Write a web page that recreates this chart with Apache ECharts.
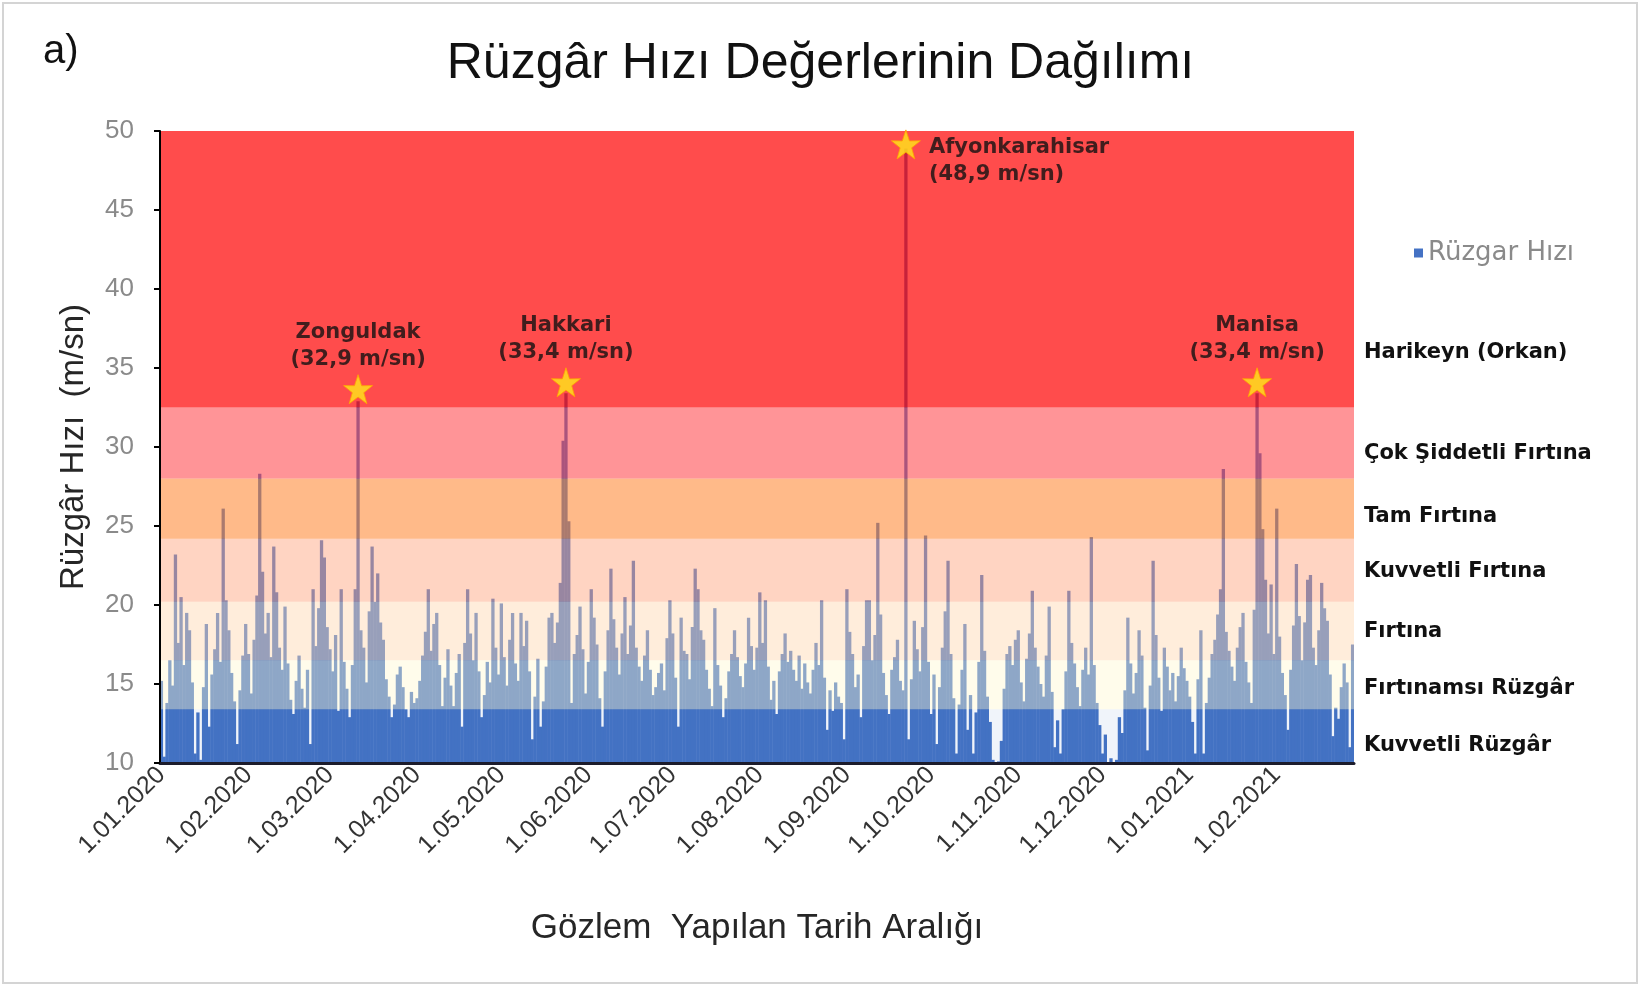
<!DOCTYPE html>
<html><head><meta charset="utf-8">
<script src="https://cdn.jsdelivr.net/npm/echarts@6/dist/echarts.min.js"></script>
<style>html,body{margin:0;padding:0;background:#fff}#c{width:1641px;height:987px}</style>
</head><body><div id="c"></div>
<script>
// Daily maximum wind speed (m/sn), one array per month
const jan2020 = [15.2,10.4,13.8,16.5,14.9,23.2,17.6,20.5,16.2,19.5,18.4,15.1,10.6,13.2,10.2,14.8,18.8,12.3,15.6,17.2,19.5,16.4,26.1,20.3,18.4,15.7,13.9,11.2,14.6,16.8,18.8];
const feb2020 = [16.9,14.4,17.8,20.6,28.3,22.1,18.2,19.5,16.7,23.7,20.8,17.3,15.9,19.9,16.3,14.0,13.1,15.2,16.8,14.7,13.5,15.9,11.2,21.0,17.4,19.8,24.1,23.0,18.6];
const mar2020 = [17.2,15.8,18.1,13.3,21.0,16.4,14.7,12.9,16.2,21.0,32.9,18.4,17.3,15.1,19.6,23.7,20.2,22.0,18.9,17.8,15.3,14.2,12.9,13.7,15.6,16.1,14.8,13.4,12.9,14.5,13.8];
const apr2020 = [14.1,15.2,16.8,18.3,21.0,17.1,18.8,19.5,16.2,13.6,15.4,17.2,14.9,13.6,15.7,16.9,12.3,17.6,21.0,18.2,16.5,19.5,15.8,12.9,14.3,16.4,15.1,20.4,17.3,15.6];
const may2020 = [20.1,16.7,14.9,17.8,19.5,16.3,15.2,19.5,17.4,19.0,15.8,11.5,14.2,16.6,12.3,13.9,16.1,19.2,19.5,17.6,18.9,21.4,30.4,33.4,25.3,13.8,16.9,18.1,19.9,17.2,14.4];
const jun2020 = [16.4,21.0,19.2,17.5,14.1,12.3,15.8,18.4,22.3,19.1,17.3,15.6,18.2,20.5,16.9,18.7,22.8,17.3,16.1,15.2,16.8,18.4,15.9,14.3,14.8,15.7,16.3,14.6,17.9,20.3];
const jul2020 = [18.2,15.4,12.3,19.2,17.1,16.9,15.3,18.6,22.3,21.0,18.4,17.8,15.9,14.7,13.6,19.8,16.2,14.9,12.9,14.1,15.8,16.9,18.4,16.7,15.5,14.8,16.3,19.2,17.4,15.9,17.3];
const aug2020 = [20.8,17.6,20.3,16.1,14.0,15.2,13.1,15.8,16.9,18.2,16.4,17.1,15.9,15.2,16.8,14.7,16.3,15.1,14.4,15.9,17.6,16.2,20.3,15.4,12.1,14.6,13.3,15.1,14.2,13.8,11.5];
const sep2020 = [21.0,18.3,16.9,14.8,15.6,12.9,17.4,20.3,20.3,16.5,18.1,25.2,19.4,15.7,14.3,13.1,15.9,16.7,17.8,15.2,14.6,48.9,11.5,15.3,19.0,17.2,15.8,18.6,24.4,16.4];
const oct2020 = [13.1,15.6,11.2,14.8,17.3,19.6,22.8,16.9,14.1,10.6,13.7,15.9,18.8,12.1,14.3,10.6,13.2,16.4,21.9,17.1,14.2,12.6,10.2,9.6,10.1,11.4,14.7,16.9,17.4,16.2,17.8];
const nov2020 = [18.4,15.1,13.9,16.6,18.2,20.9,17.3,16.1,15.0,14.2,16.8,19.9,14.5,11.0,12.7,10.6,13.4,15.8,20.9,17.6,16.3,14.8,13.6,15.9,17.3,15.6,24.3,16.2,13.8,12.4];
const dec2020 = [10.6,11.8,9.8,10.3,9.5,10.2,12.9,11.9,14.6,19.2,16.3,14.4,15.7,18.4,16.8,13.5,10.8,14.9,22.8,18.1,15.4,13.3,17.3,16.1,14.6,15.7,13.9,15.5,17.3,16.0,15.2];
const jan2021 = [14.2,12.6,10.6,15.3,18.4,10.6,13.8,15.4,16.9,17.8,19.4,21.0,28.6,18.3,17.1,16.1,15.2,17.3,18.6,19.5,16.4,15.1,13.8,19.7,33.4,29.6,24.8,21.6,18.2,21.3,16.9];
const feb2021 = [26.1,18.0,15.7,14.3,12.1,15.9,18.7,22.6,19.3,16.5,18.9,21.6,21.9,17.3,16.2,18.4,21.4,19.8,19.0,15.6,11.7,13.5,12.8,14.8,16.3,15.1,11.0,17.5];

const monthTickLabels = ['1.01.2020','1.02.2020','1.03.2020','1.04.2020','1.05.2020','1.06.2020','1.07.2020','1.08.2020','1.09.2020','1.10.2020','1.11.2020','1.12.2020','1.01.2021','1.02.2021'];

const peaks = [
  {city:'Zonguldak', date:'11.03.2020', speed:32.9},
  {city:'Hakkari', date:'24.05.2020', speed:33.4},
  {city:'Afyonkarahisar', date:'22.09.2020', speed:48.9},
  {city:'Manisa', date:'25.01.2021', speed:33.4}
];

const bandNames = ['Kuvvetli Rüzgâr','Fırtınamsı Rüzgâr','Fırtına','Kuvvetli Fırtına','Tam Fırtına','Çok Şiddetli Fırtına','Harikeyn (Orkan)'];
const bandLimits = [10, 13.4, 16.5, 20.2, 24.2, 28.0, 32.5, 50];

// ---- build
const months = [
  [1,2020,jan2020],[2,2020,feb2020],[3,2020,mar2020],[4,2020,apr2020],[5,2020,may2020],[6,2020,jun2020],
  [7,2020,jul2020],[8,2020,aug2020],[9,2020,sep2020],[10,2020,oct2020],[11,2020,nov2020],[12,2020,dec2020],
  [1,2021,jan2021],[2,2021,feb2021]
];
const categories = [], speeds = [];
months.forEach(([m,y,arr]) => arr.forEach((v,i) => {
  categories.push((i+1)+'.'+String(m).padStart(2,'0')+'.'+y);
  speeds.push(v);
}));

const bandFill = ['rgba(68,114,196,0.08)','rgba(255,247,205,0.40)','rgba(255,215,175,0.45)','rgba(255,160,120,0.45)','rgba(255,130,40,0.55)','rgba(255,60,65,0.55)','rgba(255,0,0,0.70)'];
const bandLabelAt = [11.1, 14.7, 18.3, 22.1, 25.6, 29.6, 36.0];
const starPath = 'path://M50,0 L61.8,35.1 L98.1,34.5 L69,56.7 L79.4,91.5 L50,70.6 L20.6,91.5 L31,56.7 L1.9,34.5 L38.2,35.1 Z';
const isMonthStart = (idx, val) => monthTickLabels.includes(val);
const starOffsets = {Zonguldak:-12, Hakkari:-11, Afyonkarahisar:-4, Manisa:-11};

const chart = echarts.init(document.getElementById('c'), null, {renderer:'canvas'});
chart.setOption({
  animation:false,
  backgroundColor:'#fff',
  textStyle:{fontFamily:'Liberation Sans'},
  title:[
    {text:'Rüzgâr Hızı Değerlerinin Dağılımı', left:'center', top:34,
     textStyle:{fontSize:50, fontWeight:'normal', color:'#111', fontFamily:'Liberation Sans'}},
    {text:'a)', left:38, top:27, textStyle:{fontSize:40, fontWeight:'normal', color:'#111', fontFamily:'Liberation Sans'}}
  ],
  legend:{
    data:['Rüzgar Hızı'], left:1409, top:235, icon:'rect', itemWidth:9, itemHeight:9,
    textStyle:{color:'#8a8a8a', fontSize:26, fontFamily:'DejaVu Sans'}
  },
  grid:{left:160, top:131, right:287, bottom:224, containLabel:false},
  xAxis:{
    type:'category', data:categories, z:10,
    axisLine:{lineStyle:{color:'#1c1c2c', width:3}},
    axisTick:{interval:isMonthStart, length:7, lineStyle:{color:'#111', width:2}},
    axisLabel:{interval:isMonthStart, rotate:45, fontSize:25, color:'#333', margin:8},
    name:'Gözlem  Yapılan Tarih Aralığı', nameLocation:'middle', nameGap:148,
    nameTextStyle:{fontSize:35, color:'#262626'}
  },
  yAxis:{
    type:'value', min:10, max:50, interval:5, z:10,
    axisLine:{show:true, lineStyle:{color:'#000', width:2}},
    axisTick:{show:true, length:6, lineStyle:{color:'#000', width:2}},
    splitLine:{show:false},
    axisLabel:{color:'#8a8a8a', fontSize:26, margin:26},
    name:'Rüzgâr Hızı  (m/sn)', nameLocation:'middle', nameGap:70,
    nameTextStyle:{fontSize:33, color:'#262626'}
  },
  graphic:[{type:'rect', silent:true, shape:{x:3,y:3,width:1634,height:980}, style:{fill:'none', stroke:'#d4d4d4', lineWidth:2}}],
  series:[
    {name:'Rüzgar Hızı', type:'bar', data:speeds, barWidth:3.3, z:2,
     itemStyle:{color:'#4472C4'}},
    {type:'custom', z:5, silent:true,
     data: bandNames.map((n,i) => [0, bandLimits[i], bandLimits[i+1], i]),
     encode:{x:0, y:[1,2]},
     renderItem:(params, api) => {
       const cs = params.coordSys;
       const yTop = api.coord([0, api.value(2)])[1];
       const yBot = api.coord([0, api.value(1)])[1];
       const i = api.value(3);
       return {type:'group', children:[
         {type:'rect', shape:{x:cs.x, y:yTop, width:cs.width, height:yBot-yTop}, style:{fill:bandFill[i]}},
         {type:'text', x:cs.x+cs.width+10, y:api.coord([0, bandLabelAt[i]])[1],
          style:{text:bandNames[i], fill:'#111', font:'bold 21px "DejaVu Sans"', verticalAlign:'middle', align:'left'}}
       ]};
     }},
    {type:'scatter', z:12, symbol:starPath, symbolSize:29,
     itemStyle:{color:'#FFE81A', borderColor:'#FFA500', borderWidth:1},
     data: peaks.map(p => ({
       value:[categories.indexOf(p.date), p.speed],
       name:p.city,
       symbolOffset:[0, starOffsets[p.city]],
       label: p.city === 'Afyonkarahisar'
         ? {position:[38,5], align:'left', verticalAlign:'top'}
         : {position:'top', distance:1}
     })),
     label:{show:true, color:'#111', fontFamily:'DejaVu Sans', fontWeight:'bold', fontSize:21, lineHeight:27,
       formatter: p => p.name + '\n(' + p.value[1].toFixed(1).replace('.', ',') + ' m/sn)'}}
  ]
});
</script></body></html>
